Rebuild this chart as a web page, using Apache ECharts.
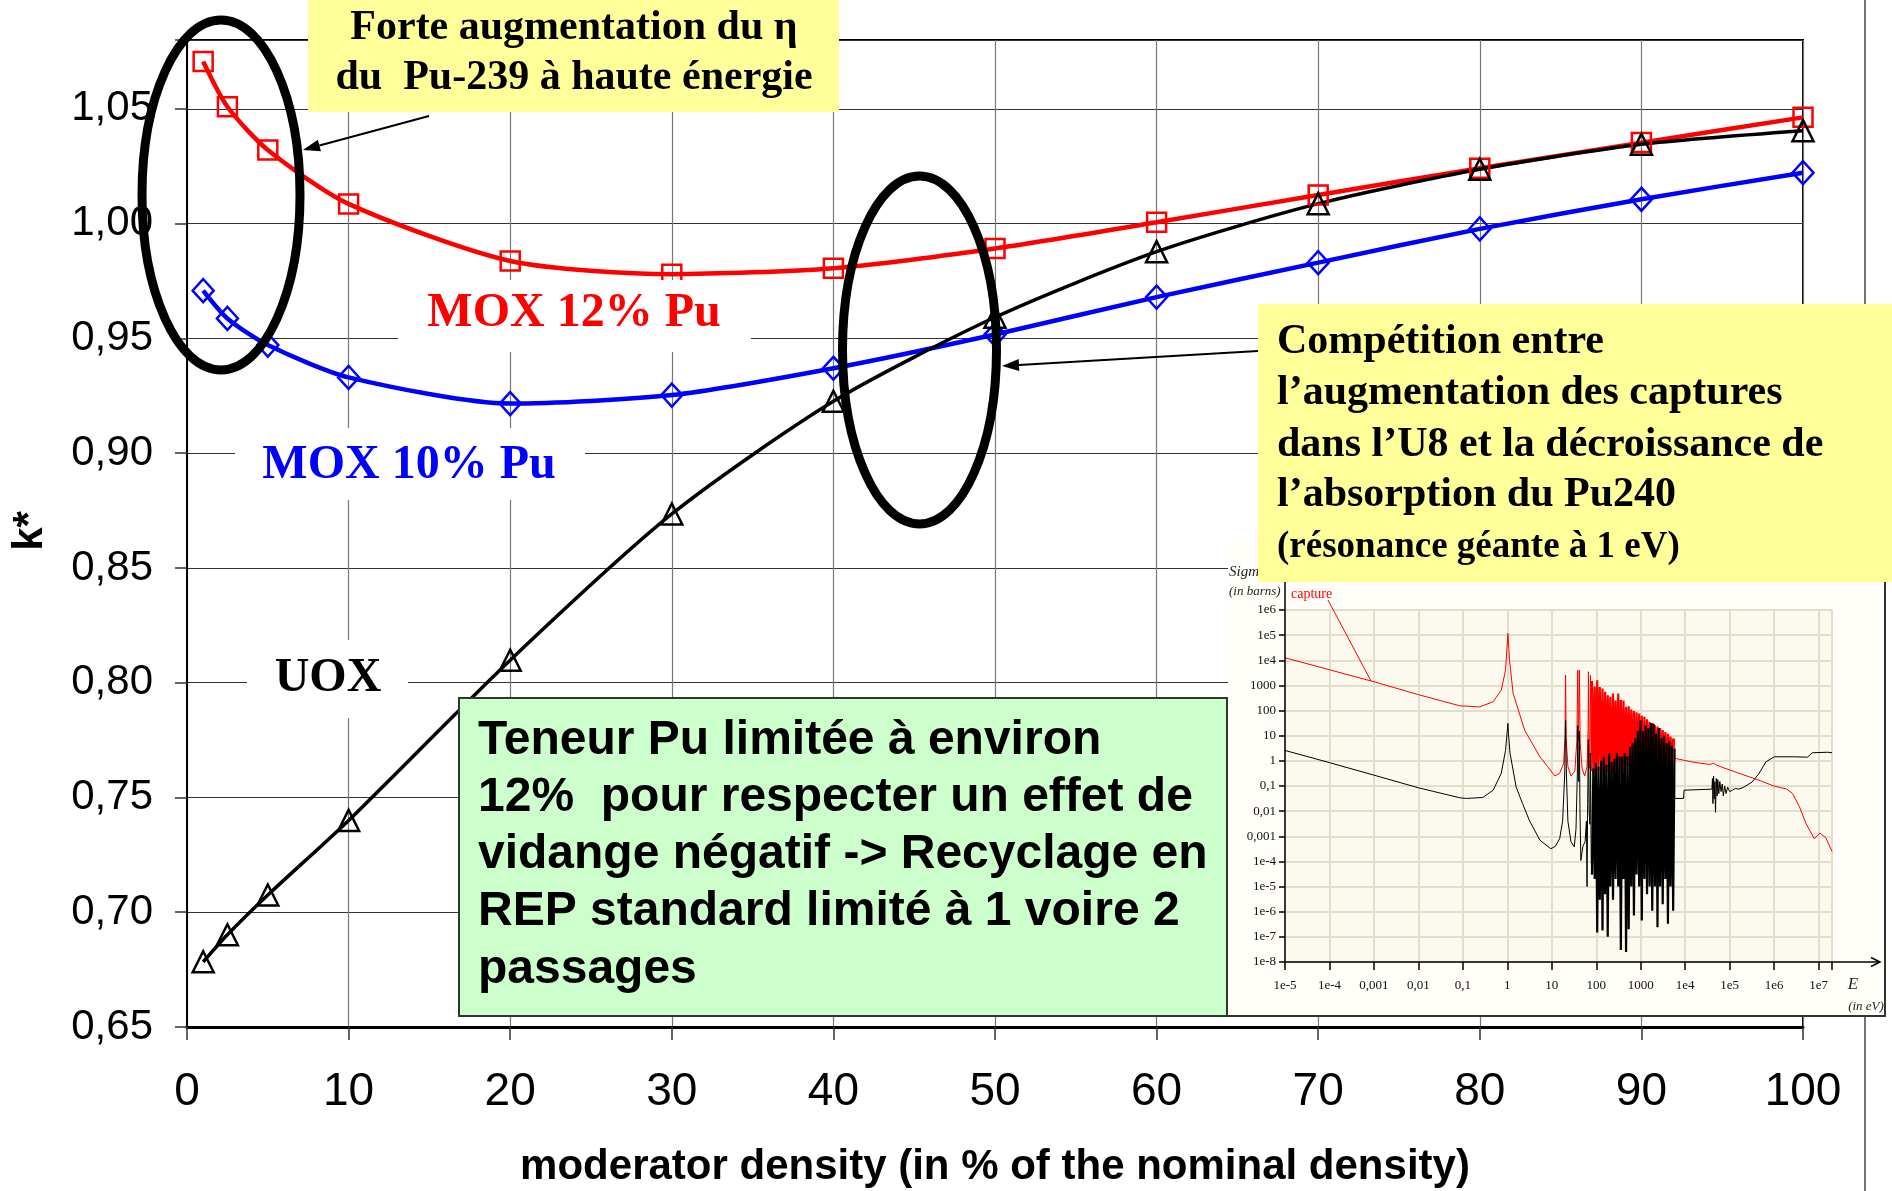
<!DOCTYPE html>
<html><head><meta charset="utf-8">
<script src="https://cdn.jsdelivr.net/npm/echarts@6/dist/echarts.min.js"></script>
<style>html,body{margin:0;padding:0;background:#fff;}#chart{width:1892px;height:1191px;}</style>
</head><body><div id="chart"></div>
<script>
// ---------- main chart data ----------
const densityPct = [1, 2.5, 5, 10, 20, 30, 40, 50, 60, 70, 80, 90, 100];
const kMox12 = [1.0706, 1.0509, 1.0321, 1.0086, 0.9837, 0.9780, 0.9806, 0.9892, 1.0006, 1.0125, 1.0241, 1.0353, 1.0463];
const kMox10 = [0.9708, 0.9587, 0.9471, 0.9330, 0.9216, 0.9253, 0.9370, 0.9517, 0.9680, 0.9830, 0.9977, 1.0106, 1.0222];
const kUox   = [0.6784, 0.6902, 0.7075, 0.7400, 0.8098, 0.8735, 0.9226, 0.9592, 0.9878, 1.0087, 1.0237, 1.0346, 1.0405];
const xTickLabels = ['0','10','20','30','40','50','60','70','80','90','100'];
const yTickLabels = ['0,65','0,70','0,75','0,80','0,85','0,90','0,95','1,00','1,05'];

// ---------- inset (cross sections, E in eV, sigma in barns) ----------
const insetELabels = ['1e-5','1e-4','0,001','0,01','0,1','1','10','100','1000','1e4','1e5','1e6','1e7'];
const insetSLabels = ['1e-8','1e-7','1e-6','1e-5','1e-4','0,001','0,01','0,1','1','10','100','1000','1e4','1e5','1e6'];
const sigmaRedLow = [
 [1e-5,12600],[1e-4,4200],[1e-3,1400],[1e-2,430],[0.085,155],[0.24,140],[0.48,225],[0.73,650],[0.91,4000],[1.03,117000],
 [1.12,10000],[1.35,480],[2.45,16.6],[5.4,1.45],[8,0.6],[11.7,0.25],[15,0.32],[18.5,0.8],[19.8,8],[20.4,2600],[21,8],[23,0.6],
 [27,0.25],[33,0.4],[36.5,6],[38.3,4000],[39.8,6],[41.7,4000],[43.5,5],[48,0.5],[55,0.25],[62,0.6],[65.5,20],[66.6,3500],
 [68,20],[71,0.5],[74,2500],[77,0.4]
];
const sigmaRedBlock = [
 [80,1500],[86,0.3],[92,900],[98,0.25],[105,1600],[112,0.4],[120,870],[129,0.3],[138,760],[148,0.2],[158,560],[169,0.35],
 [181,410],[194,0.25],[207,350],[222,0.3],[238,480],[254,0.2],[272,250],[291,0.4],[312,480],[334,0.3],[357,260],[382,0.5],
 [409,250],[438,0.3],[468,140],[501,0.6],[536,148],[574,0.4],[614,110],[657,0.5],[703,95],[752,0.3],[805,85],[861,0.6],
 [922,76],[986,0.4],[1055,62],[1130,0.5],[1209,56],[1293,0.6],[1384,45],[1481,0.4],[1585,36],[1696,0.7],[1815,32],[1942,0.5],
 [2078,26],[2223,0.6],[2379,23],[2546,0.8],[2724,20],[2915,0.5],[3119,17],[3337,0.7],[3571,14],[3821,0.6],[4088,12],[4375,0.8],
 [4681,9.3],[5009,0.7],[5360,7.6],[5735,6.3]
];
const sigmaRedHigh = [
 [5900,1.25],[14500,0.9],[35000,0.72],[44000,0.8],[50000,0.68],[105000,0.42],[260000,0.24],[500000,0.16],[980000,0.1],
 [1.9e6,0.076],[2.6e6,0.05],[3.7e6,0.015],[5.2e6,0.0032],[8e6,0.0008],[1.07e7,0.00135],[1.45e7,0.00088],[2e7,0.00025]
];
const sigmaBlackLow = [
 [1e-5,2.6],[1e-4,0.85],[1e-3,0.27],[1e-2,0.085],[0.085,0.034],[0.12,0.032],[0.28,0.035],[0.48,0.068],[0.73,0.32],[0.91,2.6],
 [1.03,31],[1.06,12],[1.15,2],[1.58,0.09],[2.2,0.02],[3.1,0.0044],[5.4,0.0007],[9.5,0.00032],[12,0.0004],[15,0.0008],[17.5,0.004],
 [19.5,0.3],[20.4,40],[21.3,0.3],[23,0.004],[27,0.0006],[32,0.00038],[35,0.002],[37.5,0.3],[38.3,25],[39.5,0.2],[40.5,0.15],
 [41.7,15],[43,0.01],[45,0.00011],[50,0.0004],[56,0.0006],[60,0.004],[62,0.00001],[64,0.02],[66.6,7],[69,0.01],[72,0.003],
 [74,2],[77,0.0001]
];
const sigmaBlackBlock = [
 [80,3e-5],[86,0.5],[92,2e-5],[98,0.8],[105,1.5e-7],[112,0.6],[120,3e-6],[129,1.0],[138,1.8e-7],[148,1.5],[158,5e-6],[169,0.7],
 [181,1e-7],[194,2],[207,1e-5],[222,0.9],[238,3e-6],[254,1.2],[272,2e-5],[291,2],[312,1e-5],[334,1.5],[357,3e-8],[382,1.5],
 [409,2e-5],[438,2],[468,2.5e-8],[501,1.5],[536,2e-7],[574,3.5],[614,1e-5],[657,5],[703,7e-7],[752,8],[805,3e-5],[861,15],
 [922,1e-5],[986,40],[1055,4.5e-7],[1130,15],[1209,2e-5],[1293,25],[1384,5e-6],[1481,20],[1585,1e-5],[1696,31],[1815,1.1e-6],
 [1942,30],[2078,1e-5],[2223,12],[2379,2.4e-7],[2546,20],[2724,1e-5],[2915,8],[3119,2e-6],[3337,10],[3571,2e-5],[3821,5],
 [4088,3.3e-7],[4375,6],[4681,1e-5],[5009,4],[5360,1.1e-6],[5735,3]
];
const sigmaBlackHigh = [
 [5800,0.032],[9200,0.032],[9400,0.068],[40000,0.075],[41000,0.2],[42000,0.02],[43500,0.25],[45000,0.03],[46500,0.15],
 [48000,0.009],[50000,0.2],[52000,0.04],[54000,0.18],[57000,0.05],[60000,0.15],[64000,0.06],[68000,0.12],[72000,0.04],
 [77000,0.1],[83000,0.05],[90000,0.09],[100000,0.06],[115000,0.068],[135000,0.08],[160000,0.075],[210000,0.09],[320000,0.145],
 [460000,0.32],[650000,0.9],[1e6,1.45],[2.8e6,1.45],[5.6e6,1.4],[7.2e6,2.1],[1.6e7,2.2],[1.75e7,2.3],[2e7,2.1]
];

const toLog = arr => arr.map(p => [Math.log10(p[0]), Math.log10(p[1])]);
const xy = ys => densityPct.map((x, i) => [x, ys[i]]);
const first = a => a[0], last = a => a[a.length - 1];

function decadeLabel(list, offset) {
  return v => {
    const k = Math.round(v);
    if (Math.abs(v - k) > 1e-6) return '';
    return list[k + offset] || '';
  };
}

function arrow(x1, y1, x2, y2, head, half) {
  const dx = x2 - x1, dy = y2 - y1, L = Math.hypot(dx, dy), ux = dx / L, uy = dy / L;
  const bx = x2 - ux * head, by = y2 - uy * head;
  return [
    {type:'line', z:30, shape:{x1:x1, y1:y1, x2:bx, y2:by}, style:{stroke:'#000', lineWidth:2}},
    {type:'polygon', z:30, shape:{points:[[x2,y2],[bx+uy*half, by-ux*half],[bx-uy*half, by+ux*half]]}, style:{fill:'#000'}}
  ];
}
function txt(x, y, text, font, fill, align, extra) {
  return Object.assign({type:'text', z:22, x:x, y:y,
    style:{text:text, font:font, fill:fill, textAlign:align, align:align, textVerticalAlign:'middle', verticalAlign:'middle'}}, extra || {});
}

const serifB = s => 'bold ' + s + 'px "Liberation Serif", "Times New Roman", serif';
const sansB = s => 'bold ' + s + 'px "Liberation Sans", Arial, sans-serif';

const graphics = [
  {type:'line', z:0, shape:{x1:1865, y1:0, x2:1865, y2:1191}, style:{stroke:'#444', lineWidth:1.5}},
  // inset background
  {type:'rect', z:1, shape:{x:1228, y:540, width:657, height:476}, style:{fill:'#FFFEF8'}},
  {type:'polyline', z:1, shape:{points:[[1885,540],[1885,1016],[1228,1016]]}, style:{stroke:'#333', lineWidth:2, fill:null}},
  // inset axis lines
  {type:'line', z:5, shape:{x1:1285, y1:582, x2:1285, y2:962}, style:{stroke:'#000', lineWidth:1.5}},
  {type:'line', z:5, shape:{x1:1285, y1:962, x2:1880, y2:962}, style:{stroke:'#000', lineWidth:1.5}},
  {type:'polyline', z:5, shape:{points:[[1871,957.5],[1880,962],[1871,966.5]]}, style:{stroke:'#000', lineWidth:1.5, fill:null}},
  txt(1229, 572, 'Sigma', 'italic 15px "Liberation Serif", serif', '#222', 'left', {z:5}),
  txt(1229, 592, '(in barns)', 'italic 13px "Liberation Serif", serif', '#222', 'left', {z:5}),
  txt(1291, 594, 'capture', '14px "Liberation Serif", serif', '#FF0000', 'left', {z:5}),
  {type:'line', z:5, shape:{x1:1328, y1:600, x2:1371, y2:681}, style:{stroke:'#FF0000', lineWidth:1}},
  txt(1853, 985, 'E', 'italic 17px "Liberation Serif", serif', '#222', 'center', {z:5}),
  txt(1866, 1007, '(in eV)', 'italic 13px "Liberation Serif", serif', '#222', 'center', {z:5}),
  // green box
  {type:'rect', z:20, shape:{x:459, y:698, width:768, height:318}, style:{fill:'#CCFFCC', stroke:'#333', lineWidth:2}},
  txt(478, 741, 'Teneur Pu limitée à environ', sansB(48), '#000', 'left'),
  txt(478, 798, '12%  pour respecter un effet de', sansB(48), '#000', 'left'),
  txt(478, 855, 'vidange négatif -> Recyclage en', sansB(48), '#000', 'left'),
  txt(478, 912, 'REP standard limité à 1 voire 2', sansB(48), '#000', 'left'),
  txt(478, 970, 'passages', sansB(48), '#000', 'left'),
  // top yellow box
  {type:'rect', z:20, shape:{x:308, y:0, width:531, height:112}, style:{fill:'#FFFF99'}},
  txt(574, 28, 'Forte augmentation du η', serifB(42), '#000', 'center'),
  txt(574, 78, 'du  Pu-239 à haute énergie', serifB(42), '#000', 'center'),
  // right yellow box
  {type:'rect', z:20, shape:{x:1258, y:304, width:634, height:278}, style:{fill:'#FFFF99'}},
  txt(1277, 342, 'Compétition entre', serifB(42), '#000', 'left'),
  txt(1277, 393, 'l’augmentation des captures', serifB(42), '#000', 'left'),
  txt(1277, 445, 'dans l’U8 et la décroissance de', serifB(42), '#000', 'left'),
  txt(1277, 495, 'l’absorption du Pu240', serifB(42), '#000', 'left'),
  txt(1277, 547, '(résonance géante à 1 eV)', serifB(37), '#000', 'left'),
  // series labels with white backgrounds
  {type:'rect', z:20, shape:{x:398, y:280, width:353, height:72}, style:{fill:'#fff'}},
  txt(574, 314, 'MOX 12% Pu', serifB(48), '#FF0000', 'center'),
  {type:'rect', z:20, shape:{x:235, y:428, width:350, height:72}, style:{fill:'#fff'}},
  txt(409, 466, 'MOX 10% Pu', serifB(48), '#0000FF', 'center'),
  {type:'rect', z:20, shape:{x:247, y:640, width:161, height:78}, style:{fill:'#fff'}},
  txt(328, 679, 'UOX', serifB(48), '#000', 'center'),
  // ellipses
  {type:'ellipse', z:25, shape:{cx:221, cy:195, rx:79, ry:175}, style:{fill:null, stroke:'#000', lineWidth:9}},
  {type:'ellipse', z:25, shape:{cx:919.5, cy:350, rx:77, ry:174}, style:{fill:null, stroke:'#000', lineWidth:9}},
  // axis titles
  txt(995, 1167, 'moderator density (in % of the nominal density)', sansB(42), '#000', 'center', {z:10}),
  txt(30, 531, 'k*', sansB(42), '#000', 'center', {z:10, rotation:Math.PI/2})
].concat(arrow(429, 116, 303, 150, 17, 6), arrow(1258, 351, 1002, 366, 17, 6));

function insetLine(name, data, color, width) {
  return {name:name, type:'line', xAxisIndex:1, yAxisIndex:1, data:toLog(data), z:4,
    symbol:'none', showSymbol:false, silent:true, lineStyle:{color:color, width:width}};
}

const chart = echarts.init(document.getElementById('chart'), null, {renderer:'canvas'});
chart.setOption({
  animation:false,
  backgroundColor:'#fff',
  grid:[
    {left:187, top:40, width:1616, height:987, show:true, borderColor:'#000', borderWidth:2, backgroundColor:'transparent', z:0},
    {left:1285, top:610, width:547, height:352, show:true, borderWidth:0, backgroundColor:'#FCF9EE', z:2}
  ],
  xAxis:[
    {type:'value', gridIndex:0, min:0, max:100, interval:10,
     axisLine:{show:true, onZero:false, lineStyle:{color:'#000', width:3}},
     axisTick:{show:true, length:13, lineStyle:{color:'#333', width:1.5}},
     axisLabel:{margin:42, fontSize:46, color:'#000', fontFamily:'"Liberation Sans", Arial, sans-serif',
       formatter:v => { const i = Math.round(v/10); return Math.abs(v/10 - i) < 1e-6 ? (xTickLabels[i] || '') : ''; }},
     splitLine:{show:true, lineStyle:{color:'#777', width:1.2}}},
    {type:'value', gridIndex:1, min:-5, max:Math.log10(2e7), interval:1, z:3,
     axisLine:{show:false, onZero:false},
     axisTick:{show:true, length:8, lineStyle:{color:'#000', width:1.5}},
     axisLabel:{margin:17, fontSize:13, color:'#111', fontFamily:'"Liberation Serif", serif', formatter:decadeLabel(insetELabels, 5)},
     splitLine:{show:true, lineStyle:{color:'#E3DECB', width:2}}}
  ],
  yAxis:[
    {type:'value', gridIndex:0, min:0.65, max:1.08, interval:0.05,
     axisLine:{show:true, onZero:false, lineStyle:{color:'#000', width:2}},
     axisTick:{show:true, length:12, lineStyle:{color:'#333', width:1.5}},
     axisLabel:{margin:34, fontSize:42, color:'#000', fontFamily:'"Liberation Sans", Arial, sans-serif',
       formatter:v => { const r = (v - 0.65)/0.05, i = Math.round(r); return Math.abs(r - i) < 1e-6 ? (yTickLabels[i] || '') : ''; }},
     splitLine:{show:true, lineStyle:{color:'#333', width:1.2}}},
    {type:'value', gridIndex:1, min:-8, max:6, interval:1, z:3,
     axisLine:{show:false, onZero:false},
     axisTick:{show:true, length:6, lineStyle:{color:'#000', width:1.5}},
     axisLabel:{margin:9, fontSize:13, color:'#111', fontFamily:'"Liberation Serif", serif', formatter:decadeLabel(insetSLabels, 8)},
     splitLine:{show:true, lineStyle:{color:'#E3DECB', width:2}}}
  ],
  graphic:{elements:graphics},
  series:[
    {name:'MOX 12% Pu', type:'line', xAxisIndex:0, yAxisIndex:0, data:xy(kMox12), smooth:0.25, z:3,
     symbol:'rect', symbolSize:19, lineStyle:{color:'#FF0000', width:4.5},
     itemStyle:{color:'rgba(255,255,255,0)', borderColor:'#FF0000', borderWidth:2.5}},
    {name:'MOX 10% Pu', type:'line', xAxisIndex:0, yAxisIndex:0, data:xy(kMox10), smooth:0.25, z:3,
     symbol:'diamond', symbolSize:[21,23], lineStyle:{color:'#0000FF', width:4.5},
     itemStyle:{color:'rgba(255,255,255,0)', borderColor:'#0000FF', borderWidth:2.5}},
    {name:'UOX', type:'line', xAxisIndex:0, yAxisIndex:0, data:xy(kUox), smooth:0.25, z:3,
     symbol:'triangle', symbolSize:[21,21], lineStyle:{color:'#000', width:3.5},
     itemStyle:{color:'rgba(255,255,255,0)', borderColor:'#000', borderWidth:2.5}},
    insetLine('capture', sigmaRedLow.concat([first(sigmaRedBlock)]), '#FF0000', 1),
    insetLine('capture res', sigmaRedBlock, '#FF0000', 2.2),
    insetLine('capture fast', [last(sigmaRedBlock)].concat(sigmaRedHigh), '#FF0000', 1),
    insetLine('other', sigmaBlackLow.concat([first(sigmaBlackBlock)]), '#000', 1),
    insetLine('other res', sigmaBlackBlock, '#000', 2.2),
    insetLine('other fast', [last(sigmaBlackBlock)].concat(sigmaBlackHigh), '#000', 1)
  ]
});
</script>
</body></html>
